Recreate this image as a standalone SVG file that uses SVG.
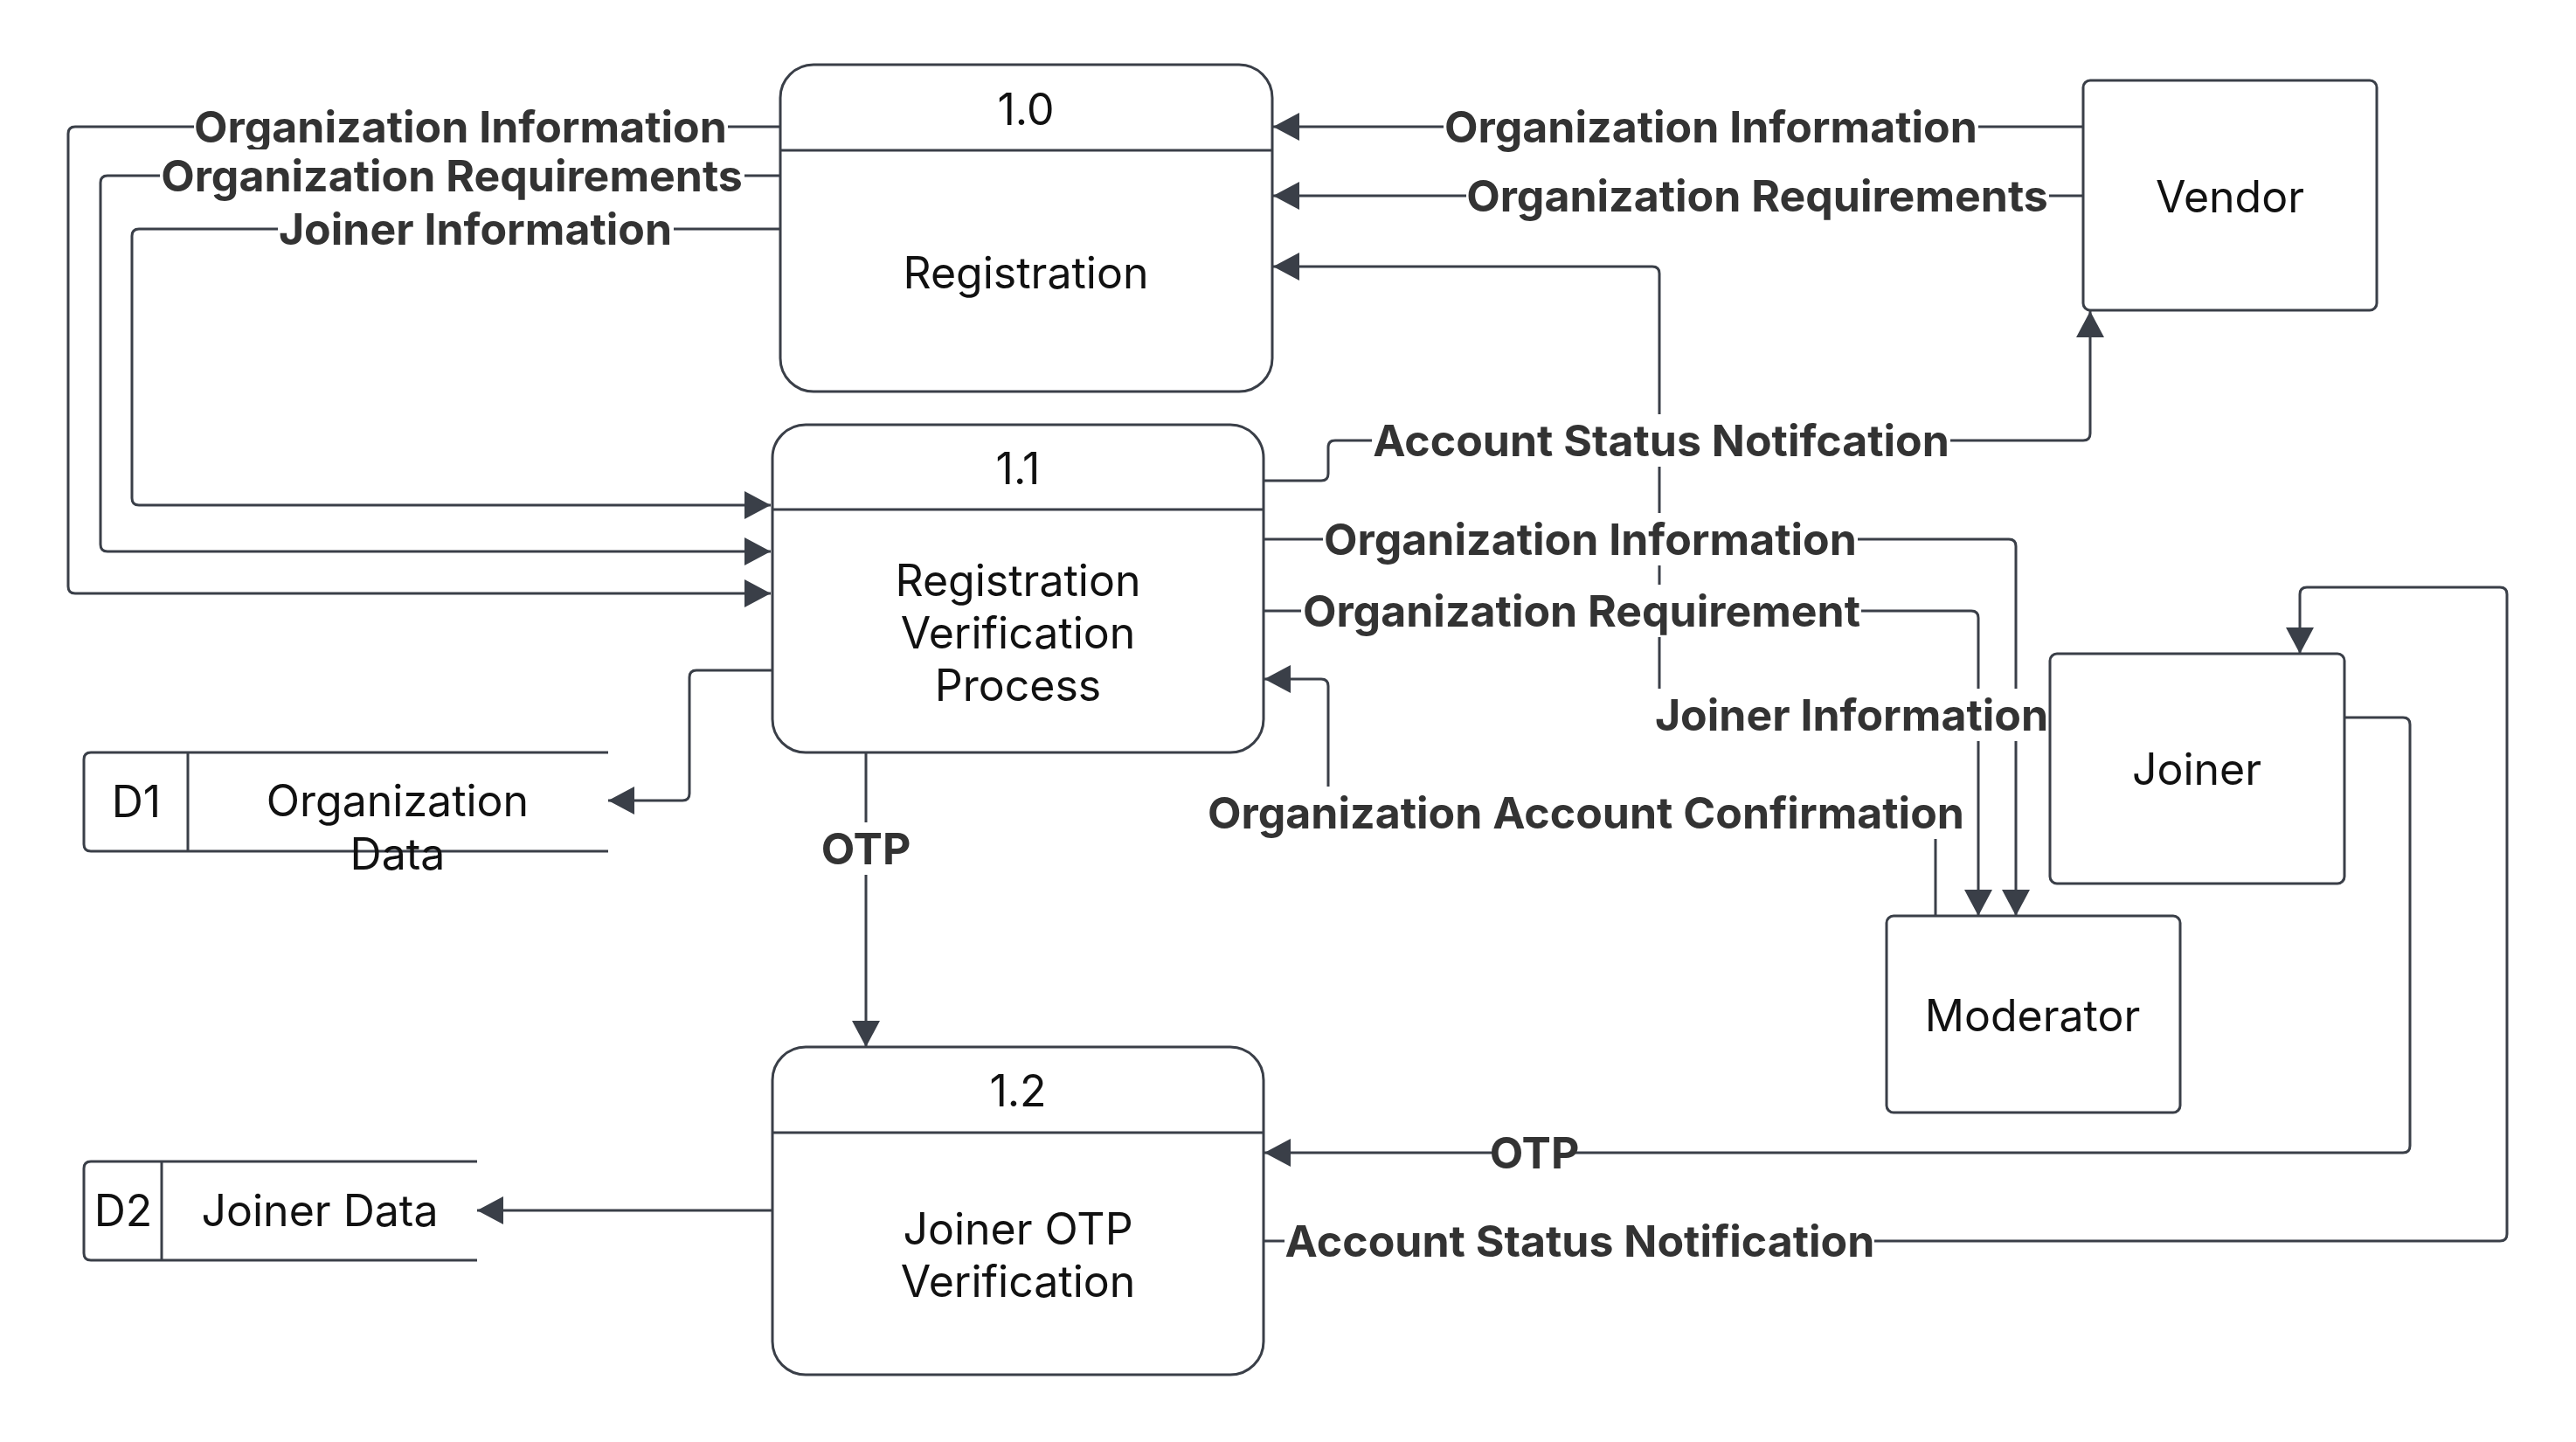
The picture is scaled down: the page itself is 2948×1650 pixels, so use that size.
<svg xmlns="http://www.w3.org/2000/svg" width="2948" height="1650" viewBox="0 0 2948 1650">
<style>
.bg{fill:#ffffff}
.node{fill:#ffffff;stroke:#3a3f48;stroke-width:3}
.div{stroke:#3a3f48;stroke-width:3;fill:none}
.conn{fill:none;stroke:#3a3f48;stroke-width:3}
.nt{font-family:Inter,"Liberation Sans",sans-serif;font-size:50px;fill:#111111;text-anchor:middle;dominant-baseline:central}
.lt{font-family:Inter,"Liberation Sans",sans-serif;font-size:50px;font-weight:bold;fill:#333333;text-anchor:middle;dominant-baseline:central}
.lb{fill:#ffffff}
</style>
<defs>
<marker id="arr" markerUnits="userSpaceOnUse" markerWidth="32" markerHeight="34" refX="30" refY="16" orient="auto">
<path d="M0,0 L30,16 L0,32 Z" fill="#3a3f48"/>
</marker>
</defs>
<rect class="bg" x="0" y="0" width="2948" height="1650"/>
<g id="connectors">
<path class="conn" marker-end="url(#arr)" d="M893 145 H86 Q78 145 78 153 V671 Q78 679 86 679 H882"/>
<path class="conn" marker-end="url(#arr)" d="M893 201 H123 Q115 201 115 209 V623 Q115 631 123 631 H882"/>
<path class="conn" marker-end="url(#arr)" d="M893 262 H159 Q151 262 151 270 V570 Q151 578 159 578 H882"/>
<path class="conn" marker-end="url(#arr)" d="M2384 145 H1457"/>
<path class="conn" marker-end="url(#arr)" d="M2384 224 H1457"/>
<path class="conn" marker-end="url(#arr)" d="M2346 818 H1907 Q1899 818 1899 810 V313 Q1899 305 1891 305 H1457"/>
<path class="conn" marker-end="url(#arr)" d="M1446 550 H1512 Q1520 550 1520 542 V512 Q1520 504 1528 504 H2384 Q2392 504 2392 496 V356"/>
<path class="conn" marker-end="url(#arr)" d="M1446 617 H2299 Q2307 617 2307 625 V1048"/>
<path class="conn" marker-end="url(#arr)" d="M1446 699 H2256 Q2264 699 2264 707 V1048"/>
<path class="conn" marker-end="url(#arr)" d="M2215 1048 V938 Q2215 930 2207 930 H1528 Q1520 930 1520 922 V785 Q1520 777 1512 777 H1447"/>
<path class="conn" marker-end="url(#arr)" d="M884 767 H797 Q789 767 789 775 V908 Q789 916 781 916 H696"/>
<path class="conn" marker-end="url(#arr)" d="M991 861 V1198"/>
<path class="conn" marker-end="url(#arr)" d="M884 1385 H546"/>
<path class="conn" marker-end="url(#arr)" d="M2683 821 H2750 Q2758 821 2758 829 V1311 Q2758 1319 2750 1319 H1447"/>
<path class="conn" marker-end="url(#arr)" d="M1446 1420 H2861 Q2869 1420 2869 1412 V680 Q2869 672 2861 672 H2640 Q2632 672 2632 680 V748"/>
</g>
<g id="labels">
<rect class="lb" x="222" y="115" width="611" height="60"/><text class="lt" x="527" y="145">Organization Information</text>
<rect class="lb" x="183" y="171" width="669" height="60"/><text class="lt" x="517" y="201">Organization Requirements</text>
<rect class="lb" x="318" y="232" width="453" height="60"/><text class="lt" x="544" y="262">Joiner Information</text>
<rect class="lb" x="1652" y="115" width="612" height="60"/><text class="lt" x="1958" y="145">Organization Information</text>
<rect class="lb" x="1678" y="194" width="667" height="60"/><text class="lt" x="2011" y="224">Organization Requirements</text>
<rect class="lb" x="1570" y="474" width="662" height="60"/><text class="lt" x="1901" y="504">Account Status Notifcation</text>
<rect class="lb" x="1514" y="587" width="612" height="60"/><text class="lt" x="1820" y="617">Organization Information</text>
<rect class="lb" x="1489" y="669" width="641" height="60"/><text class="lt" x="1810" y="699">Organization Requirement</text>
<rect class="lb" x="1895" y="788" width="450" height="60"/><text class="lt" x="2119" y="818">Joiner Information</text>
<rect class="lb" x="1381" y="900" width="868" height="60"/><text class="lt" x="1815" y="930">Organization Account Confirmation</text>
<rect class="lb" x="944" y="941" width="94" height="60"/><text class="lt" x="991" y="971">OTP</text>
<rect class="lb" x="1709" y="1289" width="94" height="60"/><text class="lt" x="1756" y="1319">OTP</text>
<rect class="lb" x="1470" y="1390" width="675" height="60"/><text class="lt" x="1808" y="1420">Account Status Notification</text>
</g>
<g id="n10">
<rect class="node" x="893" y="74" width="563" height="374" rx="38"/>
<line class="div" x1="893" y1="172" x2="1456" y2="172"/>
<text class="nt" x="1174" y="125">1.0</text>
<text class="nt" x="1174" y="312">Registration</text>
</g>
<g id="n11">
<rect class="node" x="884" y="486" width="562" height="375" rx="38"/>
<line class="div" x1="884" y1="583" x2="1446" y2="583"/>
<text class="nt" x="1165" y="536">1.1</text>
<text class="nt" x="1165" y="664">Registration</text>
<text class="nt" x="1165" y="724">Verification</text>
<text class="nt" x="1165" y="784">Process</text>
</g>
<g id="n12">
<rect class="node" x="884" y="1198" width="562" height="375" rx="38"/>
<line class="div" x1="884" y1="1296" x2="1446" y2="1296"/>
<text class="nt" x="1165" y="1248">1.2</text>
<text class="nt" x="1165" y="1406">Joiner OTP</text>
<text class="nt" x="1165" y="1466">Verification</text>
</g>
<g id="vendor">
<rect class="node" x="2384" y="92" width="336" height="263" rx="8"/>
<text class="nt" x="2552" y="225">Vendor</text>
</g>
<g id="joiner">
<rect class="node" x="2346" y="748" width="337" height="263" rx="8"/>
<text class="nt" x="2514" y="880">Joiner</text>
</g>
<g id="moderator">
<rect class="node" x="2159" y="1048" width="336" height="225" rx="8"/>
<text class="nt" x="2326" y="1162">Moderator</text>
</g>
<g id="d1">
<path class="node" d="M696 861 H104 Q96 861 96 869 V966 Q96 974 104 974 H696"/>
<line class="div" x1="215" y1="861" x2="215" y2="974"/>
<text class="nt" x="156" y="917">D1</text>
<text class="nt" x="455" y="916">Organization</text>
<text class="nt" x="455" y="977">Data</text>
</g>
<g id="d2">
<path class="node" d="M546 1329 H104 Q96 1329 96 1337 V1434 Q96 1442 104 1442 H546"/>
<line class="div" x1="185" y1="1329" x2="185" y2="1442"/>
<text class="nt" x="141" y="1385">D2</text>
<text class="nt" x="366" y="1385">Joiner Data</text>
</g>
</svg>
